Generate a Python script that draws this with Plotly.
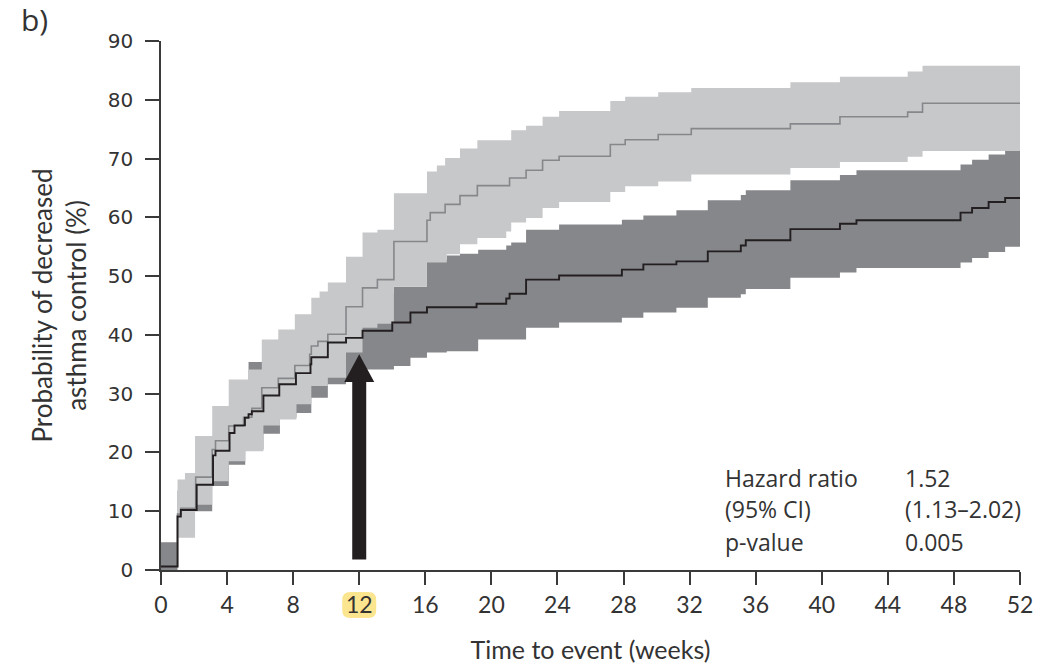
import plotly.graph_objects as go

# Kaplan-Meier estimates (probability of decreased asthma control, %) by week
weeks_a = [0, 1.0, 1.2, 2.1, 3.1, 3.3, 4.1, 5.0, 5.5, 6.1, 7.1, 8.1, 9.0, 9.1, 9.5, 10.1, 11.2, 12.2, 13.1, 14.1,
           16.1, 16.3, 17.2, 18.1, 19.15, 21.1, 22.1, 23.1, 24.1, 27.2, 28.1, 30.1, 32.1, 38.1, 41.1, 45.2, 46.1, 52]
prob_a = [0.6, 9.5, 10.5, 15.8, 20.5, 22.0, 24.5, 26.0, 27.5, 31.0, 32.6, 34.8, 36.7, 38.1, 38.9, 40.1, 44.8, 48.0, 49.4, 55.9,
          59.5, 60.8, 62.2, 63.7, 65.4, 66.7, 68.0, 69.7, 70.4, 72.4, 73.2, 74.1, 75.1, 75.9, 77.1, 77.9, 79.4, 79.4]

weeks_a_hi = [0, 1.0, 1.45, 2.06, 3.1, 4.1, 5.3, 6.1, 7.1, 8.1, 9.1, 9.6, 10.1, 11.2, 12.2, 13.1, 14.1, 16.1, 16.7, 17.2,
              18.1, 19.15, 21.2, 22.1, 23.1, 24.1, 27.2, 28.1, 30.1, 32.1, 38.1, 41.1, 45.2, 46.1, 52]
ci_a_hi = [0, 15.4, 16.5, 22.8, 27.9, 32.4, 34.1, 39.2, 40.9, 43.5, 46.3, 47.4, 48.9, 53.3, 57.4, 57.9, 64.1, 67.8, 68.8, 70.1,
           71.7, 73.1, 74.8, 75.6, 77.1, 78.1, 79.8, 80.5, 81.3, 82.0, 83.0, 83.9, 84.8, 85.8, 85.8]

weeks_a_lo = [0, 1.0, 2.06, 3.1, 4.1, 5.1, 6.2, 7.2, 8.2, 9.1, 10.1, 11.2, 12.2, 13.1, 14.1, 16.1, 17.3, 18.1, 19.15, 20.9,
              21.2, 22.1, 23.1, 24.1, 27.2, 28.1, 30.1, 32.1, 38.1, 41.1, 45.2, 46.1, 52]
ci_a_lo = [0, 5.5, 11.1, 15.1, 18.5, 20.2, 24.6, 25.6, 28.2, 31.3, 32.7, 37.0, 41.2, 41.9, 48.2, 52.3, 53.7, 55.4, 56.5, 57.6,
           59.1, 59.9, 61.6, 62.6, 64.3, 65.3, 66.1, 67.3, 68.4, 69.4, 70.3, 71.3, 71.3]

weeks_b = [0, 1.0, 1.2, 2.16, 3.15, 3.3, 4.15, 4.45, 5.08, 5.3, 5.5, 6.2, 7.16, 8.17, 9.05, 9.1, 10.1, 11.2, 12.2, 14.0,
           15.1, 16.1, 19.1, 20.9, 21.1, 22.1, 24.1, 27.9, 29.2, 31.2, 33.1, 35.1, 35.4, 38.1, 41.1, 42.1, 48.4, 49.1, 50.1, 51.1, 52]
prob_b = [0.6, 9.1, 10.2, 14.5, 19.5, 20.3, 23.3, 24.6, 25.9, 26.5, 27.0, 29.7, 31.6, 33.5, 35.0, 36.2, 38.7, 39.5, 40.7, 42.1,
          43.8, 44.7, 45.3, 46.2, 47.0, 49.4, 50.1, 51.1, 52.0, 52.5, 54.2, 55.2, 56.1, 58.0, 58.9, 59.5, 60.8, 61.6, 62.6, 63.3, 63.3]

weeks_b_hi = [0, 1.0, 1.2, 2.16, 3.15, 4.15, 5.3, 6.2, 7.2, 8.2, 9.1, 10.1, 11.2, 12.2, 14.1, 16.1, 17.3, 18.1, 19.2, 20.9,
              21.2, 22.1, 24.1, 27.9, 29.2, 31.2, 33.1, 35.1, 35.4, 38.1, 41.1, 42.1, 48.4, 49.1, 50.1, 51.1, 52]
ci_b_hi = [4.7, 13.5, 14.5, 19.5, 25.0, 29.0, 35.4, 36.5, 38.0, 40.0, 42.5, 45.0, 46.0, 47.0, 48.2, 52.8, 53.5, 53.8, 54.5, 55.2,
           55.7, 57.9, 58.8, 59.6, 60.3, 61.2, 62.9, 63.8, 64.6, 66.3, 67.2, 68.0, 69.0, 69.8, 70.7, 71.3, 71.3]

weeks_b_lo = [0, 1.0, 2.06, 3.1, 4.1, 5.1, 6.2, 7.2, 8.2, 9.1, 10.1, 11.2, 12.2, 14.1, 15.1, 16.1, 17.3, 19.2, 22.1, 24.1,
              27.9, 29.2, 31.2, 33.1, 35.1, 35.4, 38.1, 41.1, 42.1, 48.4, 49.1, 50.1, 51.1, 52]
ci_b_lo = [0, 6.0, 10.0, 14.3, 17.9, 20.5, 23.2, 26.0, 26.7, 29.3, 31.6, 32.4, 34.1, 34.7, 36.1, 37.0, 37.2, 39.2, 41.2, 42.1,
           42.9, 43.8, 44.6, 46.3, 46.9, 47.8, 49.7, 50.6, 51.4, 52.3, 53.1, 54.1, 55.0, 55.0]

x_ticks = list(range(0, 53, 4))
y_ticks = list(range(0, 91, 10))
marked_week = 12
arrow_from, arrow_to = 1.8, 36.7

stats_labels = ["Hazard ratio", "(95% CI)", "p-value"]
stats_values = ["1.52", "(1.13\u20132.02)", "0.005"]

LIGHT_BAND = "#c7c8ca"
DARK_BAND = "#86878b"
LIGHT_LINE = "#86878a"
DARK_LINE = "#231f20"
TEXT = "#333333"
AXIS = "#3a3a3a"

fig = go.Figure()


def band(t_lo, lo, t_hi, hi, color):
    fig.add_trace(go.Scatter(x=t_lo, y=lo, mode="lines", line=dict(width=0, shape="hv"),
                             hoverinfo="skip", showlegend=False))
    fig.add_trace(go.Scatter(x=t_hi, y=hi, mode="lines", line=dict(width=0, shape="hv"),
                             fill="tonexty", fillcolor=color, hoverinfo="skip", showlegend=False))


band(weeks_b_lo, ci_b_lo, weeks_b_hi, ci_b_hi, DARK_BAND)
band(weeks_a_lo, ci_a_lo, weeks_a_hi, ci_a_hi, LIGHT_BAND)

fig.add_trace(go.Scatter(x=weeks_a, y=prob_a, mode="lines",
                         line=dict(color=LIGHT_LINE, width=1.6, shape="hv"), showlegend=False))
fig.add_trace(go.Scatter(x=weeks_b, y=prob_b, mode="lines",
                         line=dict(color=DARK_LINE, width=1.9, shape="hv"), showlegend=False))

# arrow marking week 12 (width in pixels, length in data units)
hw, sw, hb = 15, 7, 32.0
fig.add_shape(type="path", xref="x", yref="y", xsizemode="pixel", xanchor=marked_week,
              path=(f"M {-sw},{arrow_from} L {sw},{arrow_from} L {sw},{hb} L {hw},{hb} "
                    f"L 0,{arrow_to} L {-hw},{hb} L {-sw},{hb} Z"),
              fillcolor=DARK_LINE, line=dict(width=0), layer="above")

# highlight behind the week-12 tick label
r = 8
x0, x1, y0, y1 = -17, 17, -48, -22
pill = (f"M {x0 + r},{y1} L {x1 - r},{y1} Q {x1},{y1} {x1},{y1 - r} L {x1},{y0 + r} "
        f"Q {x1},{y0} {x1 - r},{y0} L {x0 + r},{y0} Q {x0},{y0} {x0},{y0 + r} "
        f"L {x0},{y1 - r} Q {x0},{y1} {x0 + r},{y1} Z")
fig.add_shape(type="path", xref="x", yref="paper", xsizemode="pixel", ysizemode="pixel",
              xanchor=marked_week, yanchor=0, path=pill,
              fillcolor="#fce58f", line=dict(width=0), layer="below")

row_y = [15.7, 10.4, 4.8]
for lab, val, yy in zip(stats_labels, stats_values, row_y):
    fig.add_annotation(x=34.0, y=yy, xref="x", yref="y", text=lab, showarrow=False,
                       xanchor="left", yanchor="middle",
                       font=dict(family="Open Sans", size=23, color=TEXT))
    fig.add_annotation(x=44.9, y=yy, xref="x", yref="y", text=val, showarrow=False,
                       xanchor="left", yanchor="middle",
                       font=dict(family="Open Sans", size=23, color=TEXT))

fig.add_annotation(x=-0.165, y=1.04, xref="paper", yref="paper", text="b)", showarrow=False,
                   xanchor="left", yanchor="middle", font=dict(family="Open Sans", size=30, color=TEXT))

fig.update_layout(
    width=1051, height=664,
    margin=dict(l=161, r=31, t=41, b=94, autoexpand=False),
    paper_bgcolor="white", plot_bgcolor="white",
    showlegend=False,
    xaxis=dict(range=[0, 52], tickvals=x_ticks, ticks="outside", ticklen=13, tickwidth=1.5,
               tickcolor=AXIS, showline=True, linecolor=AXIS, linewidth=1.5, showgrid=False,
               zeroline=False, ticklabelstandoff=1, automargin=False,
               tickfont=dict(family="Lato", size=23, color=TEXT),
               title=dict(text="Time to event (weeks)", standoff=32,
                          font=dict(family="Lato", size=25, color=TEXT))),
    yaxis=dict(range=[0, 90], tickvals=y_ticks, ticks="outside", ticklen=14, tickwidth=1.5,
               tickcolor=AXIS, showline=True, linecolor=AXIS, linewidth=1.5, showgrid=False,
               zeroline=False, ticklabelstandoff=8, automargin=False,
               tickfont=dict(family="DejaVu Sans", size=20, color=TEXT),
               title=dict(text="Probability of decreased<br>asthma control (%)", standoff=14,
                          font=dict(family="Lato", size=26, color=TEXT))),
)

fig.write_html("out.html")
